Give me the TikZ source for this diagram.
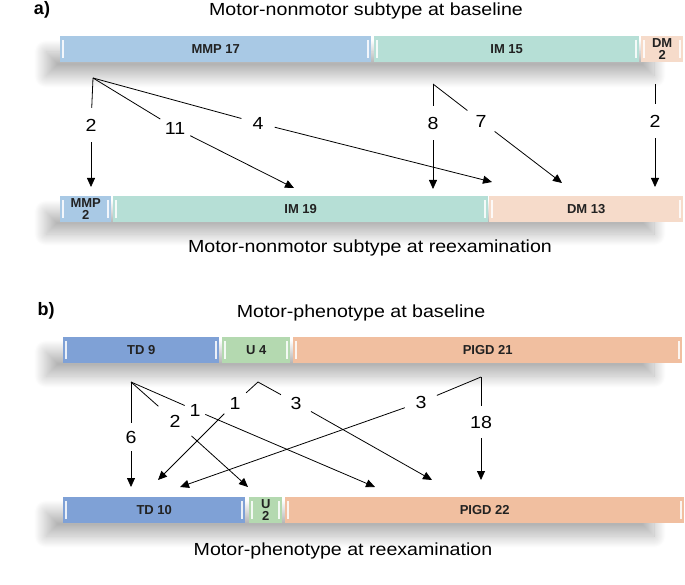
\documentclass[tikz,border=0pt]{standalone}
\usepackage{fontspec}
\setmainfont{Liberation Sans}
\newfontfamily\thinfont{Liberation Sans}[FakeStretch=1.12]
\usetikzlibrary{arrows.meta, shadows.blur}

\definecolor{mmpblue}{HTML}{A9C9E5}
\definecolor{immint}{HTML}{B6DFD6}
\definecolor{dmpeach}{HTML}{F6DBCA}
\definecolor{tdblue}{HTML}{7FA1D6}
\definecolor{ugreen}{HTML}{B4D9B0}
\definecolor{pigdsalmon}{HTML}{F1BFA0}
\definecolor{barlabel}{HTML}{222222}

\begin{document}
\begin{tikzpicture}[x=1pt, y=-1pt]
        % ================= styles =================
        \tikzset{
            % one segment of a bar, white bevel at both ends
            bar/.style={rectangle, fill=#1, minimum height=26pt, inner sep=0pt, anchor=west,
                font=\bfseries\fontsize{13}{11.5}\selectfont, text=barlabel, align=center,
                path picture={
                    \draw[white, line width=1.6pt, opacity=0.85]
                        ([xshift=3pt,yshift=4pt]path picture bounding box.south west) -- ([xshift=3pt,yshift=-4pt]path picture bounding box.north west)
                        ([xshift=-3pt,yshift=4pt]path picture bounding box.south east) -- ([xshift=-3pt,yshift=-4pt]path picture bounding box.north east);
                }},
            num/.style={circle, minimum size=34pt, inner sep=0pt, font=\thinfont\fontsize{17.5}{18}\selectfont},
            title/.style={anchor=base, font=\thinfont\fontsize{17.5}{20}\selectfont},
            panel/.style={anchor=base, font=\bfseries\fontsize{18}{20}\selectfont},
            flow/.style={draw=black, line width=0.8pt},
            arr/.style={flow, -{Triangle[length=9pt, width=8pt]}},
            rowshadow/.style={blur shadow={shadow xshift=0pt, shadow yshift=0pt,
                shadow blur radius=12pt, shadow blur steps=24, shadow opacity=30}}
        }
        \useasboundingbox (0,0) rectangle (685,585);

        % ================= a) motor-nonmotor subtype =================
        \node[panel] (pa) at (42,15) {a)};
        \node[title] (ta) at (366,15.5) {Motor-nonmotor subtype at baseline};
        \node[title] (tb) at (370,253) {Motor-nonmotor subtype at reexamination};

        % shadows below the bars
        \path[rowshadow] (46,52) rectangle (654,76);
        \path[rowshadow] (46,212) rectangle (654,234);

        % 1. baseline bar
        \node[bar=mmpblue, minimum width=311pt] (mmp1) at (60,49)  {MMP 17};
        \node[bar=immint,  minimum width=265pt] (im1)  at (374,49) {IM 15};
        \node[bar=dmpeach, minimum width=42pt]  (dm1)  at (641,49) {DM\\2};

        % 2. reexamination bar
        \node[bar=mmpblue, minimum width=51pt]  (mmp2) at (60,209)  {MMP\\2};
        \node[bar=immint,  minimum width=375pt] (im2)  at (113,209) {IM 19};
        \node[bar=dmpeach, minimum width=194pt] (dm2)  at (489,209) {DM 13};

        % 3. fan points and arrow tips
        \coordinate (fmmp) at (93,78);
        \coordinate (fim)  at (433,84);
        \coordinate (fdm)  at (655,84);
        \coordinate (tmmp) at (91,187);
        \coordinate (tim)  at (294,188);
        \coordinate (tdmA) at (492,182);
        \coordinate (tim8) at (433,189);
        \coordinate (tdmB) at (562,183);
        \coordinate (tdmC) at (655,187);

        % 4. counts
        \node[num] (a2)  at (91,125)  {2};
        \node[num] (a11) at (175,128) {11};
        \node[num] (a4)  at (258,123) {4};
        \node[num] (a8)  at (433,123) {8};
        \node[num] (a7)  at (481,121) {7};
        \node[num] (a2b) at (655,121) {2};

        % 5. transitions
        \foreach \n/\t in {a2/tmmp, a11/tim, a4/tdmA} {
            \draw[flow] (fmmp) -- (\n);
            \draw[arr] (\n) -- (\t);
        }
        \foreach \n/\t in {a8/tim8, a7/tdmB} {
            \draw[flow] (fim) -- (\n);
            \draw[arr] (\n) -- (\t);
        }
        \draw[flow] (fdm) -- (a2b);
        \draw[arr] (a2b) -- (tdmC);

        % ================= b) motor-phenotype =================
        \node[panel] (pb) at (46,316) {b)};
        \node[title] (tc) at (361,317) {Motor-phenotype at baseline};
        \node[title] (td) at (343,555) {Motor-phenotype at reexamination};

        \path[rowshadow] (46,352) rectangle (654,376);
        \path[rowshadow] (46,512) rectangle (654,536);

        % 1. baseline bar
        \node[bar=tdblue,     minimum width=156pt] (td1)   at (63,350)  {TD 9};
        \node[bar=ugreen,     minimum width=68pt]  (u1)    at (222,350) {U 4};
        \node[bar=pigdsalmon, minimum width=389pt] (pigd1) at (293,350) {PIGD 21};

        % 2. reexamination bar
        \node[bar=tdblue,     minimum width=182pt] (td2)   at (63,510)  {TD 10};
        \node[bar=ugreen,     minimum width=33pt]  (u2)    at (249,510) {U\\2};
        \node[bar=pigdsalmon, minimum width=399pt] (pigd2) at (285,510) {PIGD 22};

        % 3. fan points and arrow tips
        \coordinate (ftd)   at (131,382);
        \coordinate (fu)    at (258,382);
        \coordinate (fpigd) at (481,377);
        \coordinate (ttdA)  at (131,487);
        \coordinate (tuA)   at (248,487);
        \coordinate (tpgA)  at (375,487);
        \coordinate (ttdB)  at (158,480);
        \coordinate (tpgB)  at (432,480);
        \coordinate (ttdC)  at (180,487);
        \coordinate (tpgC)  at (481,480);

        % 4. counts
        \node[num, minimum size=28pt] (b6)  at (131,437) {6};
        \node[num, minimum size=44pt] (b2)  at (175,421) {2};
        \node[num, minimum size=22pt] (b1)  at (195,410) {1};
        \node[num, minimum size=30pt] (b1b) at (235,403) {1};
        \node[num]                    (b3)  at (296,403) {3};
        \node[num]                    (b3b) at (421,402) {3};
        \node[num, minimum size=32pt] (b18) at (481,422) {18};

        % 5. transitions
        \foreach \n/\t in {b6/ttdA, b2/tuA, b1/tpgA} {
            \draw[flow] (ftd) -- (\n);
            \draw[arr] (\n) -- (\t);
        }
        \foreach \n/\t in {b1b/ttdB, b3/tpgB} {
            \draw[flow] (fu) -- (\n);
            \draw[arr] (\n) -- (\t);
        }
        \foreach \n/\t in {b3b/ttdC, b18/tpgC} {
            \draw[flow] (fpigd) -- (\n);
            \draw[arr] (\n) -- (\t);
        }

    \end{tikzpicture}
\end{document}
